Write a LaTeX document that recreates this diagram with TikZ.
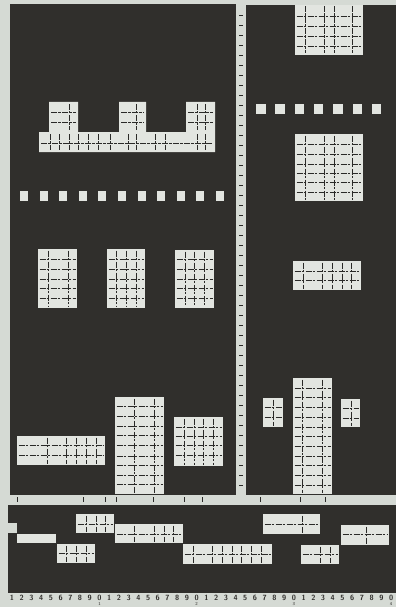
\documentclass[tikz,border=0pt]{standalone}
\usepackage{tikz}
\usetikzlibrary{positioning}
\definecolor{paperGrey}{HTML}{D5DAD4}
\definecolor{inkDark}{HTML}{302F2C}
\definecolor{cellLight}{HTML}{E2E5E0}
\definecolor{lineDark}{HTML}{2A2A28}

% filled cell with its ruling: corners, then x of the verticals, y of the horizontals
\newcommand{\gridblock}[6]{%
  \fill[cellLight] (#1,#2) rectangle (#3,#4);
  \foreach \gx in {#5} {\draw[gline] (\gx,#2+1.5) -- (\gx,#4-1.5);}
  \foreach \gy in {#6} {\draw[gline] (#1+1.5,\gy) -- (#3-1.5,\gy);}
}

\begin{document}
\begin{tikzpicture}[x=1pt, y=-1pt,
    gline/.style={lineDark, line width=0.9pt, dash pattern=on 6pt off 1pt on 2.5pt off 1.5pt},
    tick/.style={lineDark, line width=0.9pt},
    digit/.style={font=\sffamily\bfseries\fontsize{7.5}{8}\selectfont, text=inkDark, inner sep=0pt},
    subdigit/.style={font=\sffamily\fontsize{4.5}{4.5}\selectfont, text=inkDark, inner sep=0pt}]
    \useasboundingbox (0,0) rectangle (396,607);
    \fill[paperGrey] (0,0) rectangle (396,607);

    % panels
    \fill[inkDark] (10,4) rectangle (236,495);
    \fill[inkDark] (246,5) rectangle (396,495);
    \fill[inkDark] (8,505) rectangle (396,593);

    % vertical ruler
    \foreach \ty in {15,25,...,485} \draw[tick] (239,\ty) -- (243,\ty);
    % horizontal strip marks
    \foreach \tx in {17,83,105,116,153,184,202,260,300,325} \draw[tick, line width=0.6pt] (\tx,497) -- (\tx,502);

    % upper left: crenellated block
    \fill[cellLight] (39,132) -- (49,132) -- (49,102) -- (78,102) -- (78,132) -- (119,132)
      -- (119,102) -- (146,102) -- (146,132) -- (186,132) -- (186,102) -- (215,102)
      -- (215,152) -- (39,152) -- cycle;
    \foreach \gx in {50,59,69,78,88,98,110,128,136,155,165,197,205} \draw[gline] (\gx,134) -- (\gx,150);
    \draw[gline] (41,143) -- (213,143);
    \foreach \gy in {112,122} {
      \draw[gline] (51,\gy) -- (76,\gy);
      \draw[gline] (121,\gy) -- (144,\gy);
      \draw[gline] (188,\gy) -- (213,\gy);
    }
    \draw[gline] (69,104) -- (69,130);
    \draw[gline] (136,104) -- (136,130);
    \foreach \gx in {197,205} \draw[gline] (\gx,104) -- (\gx,130);

    % row of small squares
    \foreach \k in {0,...,10} \fill[cellLight] ({20+\k*19.6},191) rectangle ++(8,10);

    % three grids
    \gridblock{38}{249}{77}{308}{48,68}{259,269,279,288,298}
    \gridblock{107}{249}{145}{308}{116,126,136}{259,269,279,288,298}
    \gridblock{175}{250}{214}{308}{185,194,204}{259,269,279,288,298}

    % bottom of left panel
    \gridblock{17}{436}{105}{465}{47,66,76,86,96}{445,455}
    \gridblock{115}{397}{164}{494}{134,154}{406,416,426,435,445,456,465,475,484}
    \gridblock{174}{417}{223}{466}{184,194,203,213}{427,436,445,455}

    % right panel
    \gridblock{295}{5}{363}{55}{305,324,334,352}{16,26,36,46}
    \foreach \k in {0,...,6} \fill[cellLight] ({256+\k*19.3},104) rectangle ++(9.5,10);
    \gridblock{295}{134}{363}{201}{305,324,334,352}{144,154,164,173,182,192}
    \gridblock{293}{261}{361}{290}{303,322,332,342,351}{271,280}
    \gridblock{293}{378}{332}{494}{302,322}{388,397,407,417,427,436,446,456,465,475,485}
    \gridblock{263}{398}{283}{427}{273}{407,417}
    \gridblock{341}{399}{360}{427}{351}{408,418}

    % lower panel
    \fill[paperGrey] (7,523) rectangle (17,533);
    \fill[cellLight] (17,534) rectangle (56,543);
    \gridblock{57}{544}{95}{563}{66,76,86}{553}
    \gridblock{76}{514}{114}{533}{86,96,105}{524}
    \gridblock{115}{524}{183}{543}{134,154,164,173}{534}
    \gridblock{183}{544}{272}{564}{193,212,222,232,241,251,261}{554}
    \gridblock{263}{514}{320}{534}{302}{524}
    \gridblock{301}{545}{339}{564}{320,330}{554}
    \gridblock{341}{525}{389}{545}{366}{534}

    % scale
    \foreach \i in {1,...,40} {
      \pgfmathtruncatemacro\d{mod(\i,10)}
      \node[digit] (n\i) at ({12+(\i-1)*9.72},598) {\d};
    }
    \node[subdigit, below=1pt of n10] (s1) {1};
    \node[subdigit, below=1pt of n20] (s2) {2};
    \node[subdigit, below=1pt of n30] (s3) {3};
    \node[subdigit, below=1pt of n40] (s4) {4};
\end{tikzpicture}
\end{document}
